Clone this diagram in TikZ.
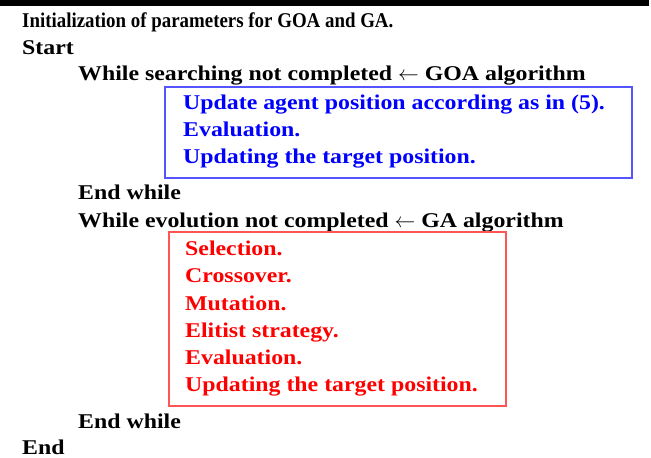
\documentclass[tikz,border=0pt]{standalone}
\usepackage{fontspec}
\setmainfont{Liberation Serif}[FakeStretch=1.135]
\newfontfamily\narrowfont{Liberation Serif}[FakeStretch=0.9]
\definecolor{boxblue}{RGB}{85,85,255}
\definecolor{boxred}{RGB}{255,85,85}
\tikzset{
  line/.style={anchor=base west,inner sep=0pt,font=\fontsize{21}{25}\selectfont\bfseries},
  goaline/.style={line,text=blue},
  galine/.style={line,text=red}
}
\begin{document}
\begin{tikzpicture}[x=1pt,y=-1pt]
   \useasboundingbox (0,0) rectangle (651,458);
   \fill[black] (0,0) rectangle (649,6);

   \node[line] (init) at (22,27) {\narrowfont\bfseries Initialization of parameters for GOA and GA.};
   \node[line] (start) at (22,54) {Start};
   \node[line] (while1) at (78,80) {While searching not completed $\leftarrow$ GOA algorithm};

   \draw[boxblue,line width=1.5pt] (165,87) rectangle (632,178);
   \node[goaline] (goa1) at (183,109) {Update agent position according as in (5).};
   \node[goaline] (goa2) at (183,136) {Evaluation.};
   \node[goaline] (goa3) at (183,163) {Updating the target position.};

   \node[line] (end1) at (78,199) {End while};
   \node[line] (while2) at (78,227) {While evolution not completed $\leftarrow$ GA algorithm};

   \draw[boxred,line width=1.5pt] (169,232) rectangle (506,406);
   \node[galine] (ga1) at (185,255) {Selection.};
   \node[galine] (ga2) at (185,282) {Crossover.};
   \node[galine] (ga3) at (185,310) {Mutation.};
   \node[galine] (ga4) at (185,337) {Elitist strategy.};
   \node[galine] (ga5) at (185,364) {Evaluation.};
   \node[galine] (ga6) at (185,391) {Updating the target position.};

   \node[line] (end2) at (78,428) {End while};
   \node[line] (stop) at (22,454) {End};
\end{tikzpicture}
\end{document}
